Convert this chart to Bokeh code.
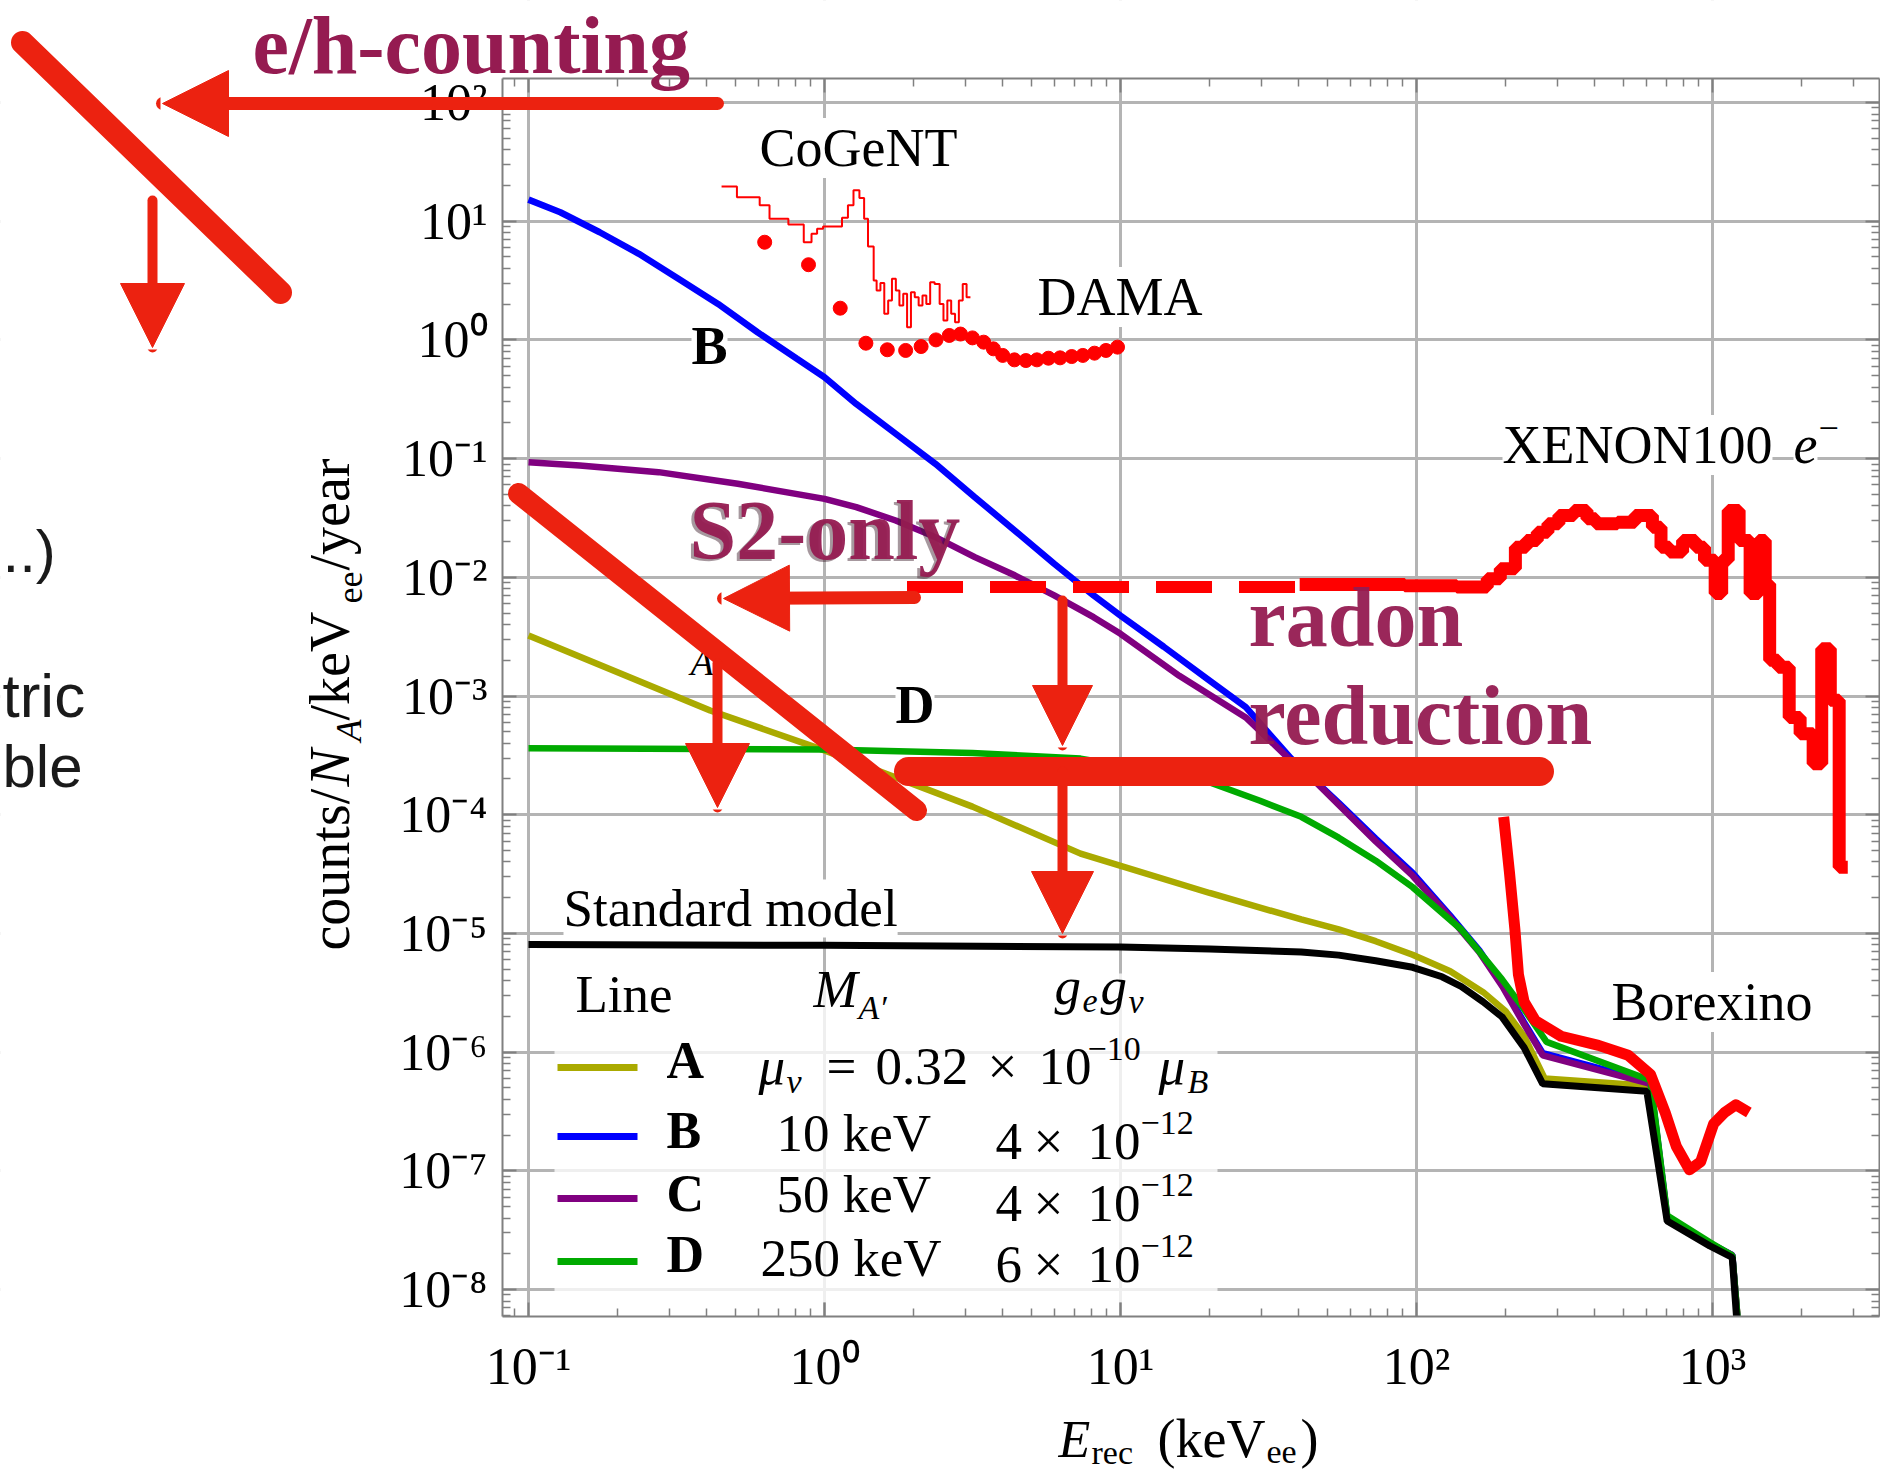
import numpy as np
from bokeh.plotting import figure
from bokeh.models import (Range1d, LogAxis, FixedTicker, CustomJSTickFormatter,
                          Label, Arrow, NormalHead, BoxAnnotation)
from bokeh.embed import file_html
from bokeh.resources import INLINE

# ---------------- data ----------------
# theory curves: recoil energy (keV_ee) -> counts/N_A/keV_ee/year
E_A = [0.1, 0.411, 1.0, 3.16, 7.33, 20.0, 40.8, 54.6, 72.8, 97.0, 130.0, 168.0, 200.0,
       231.0, 271.0, 608.0, 703.0, 980.0, 1167.0, 1250.0]
R_A = [3.24e-3, 7.55e-4, 3.48e-4, 1.17e-4, 4.7e-5, 2.19e-5, 1.31e-5, 1.08e-5, 8.6e-6,
       6.6e-6, 4.8e-6, 3.2e-6, 2.21e-6, 1.36e-6, 6.0e-7, 5.2e-7, 3.9e-8, 2.4e-8, 1.9e-8, 2.5e-9]

E_B = [0.1, 0.128, 0.174, 0.236, 0.321, 0.437, 0.594, 0.807, 1.0, 1.28, 1.74, 2.37, 3.22,
       4.39, 5.97, 8.11, 10.0, 14.0, 20.0, 26.5, 37.6, 54.6, 72.8, 97.0, 130.0, 163.0, 195.0,
       231.0, 267.0, 617.0, 703.0, 980.0, 1167.0, 1236.0]
R_B = [15.2, 11.9, 8.07, 5.31, 3.27, 2.01, 1.16, 0.693, 0.485, 0.289, 0.162, 0.0904, 0.0473,
       0.0248, 0.0130, 7.03e-3, 4.76e-3, 2.6e-3, 1.35e-3, 8.05e-4, 3.0e-4, 1.26e-4, 6.3e-5,
       3.24e-5, 1.41e-5, 7.2e-6, 3.7e-6, 1.78e-6, 9.8e-7, 5.6e-7, 4.1e-8, 2.45e-8, 1.95e-8, 3.2e-9]

E_C = [0.1, 0.149, 0.275, 0.509, 1.0, 1.28, 1.74, 2.37, 3.22, 4.39, 5.97, 8.11, 10.0, 15.8,
       26.5, 37.5, 45.8, 72.8, 97.0, 130.0, 163.0, 195.0, 231.0, 267.0, 617.0, 703.0, 980.0,
       1167.0, 1250.0]
R_C = [0.0933, 0.0875, 0.0769, 0.0614, 0.0458, 0.039, 0.0301, 0.0218, 0.0148, 0.0104,
       7.03e-3, 4.61e-3, 3.34e-3, 1.48e-3, 6.6e-4, 2.88e-4, 1.87e-4, 5.96e-5, 3.06e-5, 1.36e-5,
       6.95e-6, 3.57e-6, 1.71e-6, 9.4e-7, 5.4e-7, 4.0e-8, 2.45e-8, 1.95e-8, 2.5e-9]

E_D = [0.1, 1.0, 3.16, 7.33, 18.6, 29.6, 40.8, 54.6, 72.8, 97.0, 141.6, 194.5, 231.0,
       275.0, 617.0, 703.0, 980.0, 1167.0, 1250.0]
R_D = [3.63e-4, 3.55e-4, 3.31e-4, 2.97e-4, 2.0e-4, 1.31e-4, 9.6e-5, 6.4e-5, 4.1e-5,
       2.45e-5, 1.08e-5, 4.1e-6, 2.29e-6, 1.22e-6, 5.8e-7, 4.2e-8, 2.5e-8, 1.93e-8, 2.5e-9]

E_SM = [0.1, 1.0, 10.0, 20.0, 40.8, 54.6, 72.8, 97.0, 122.0, 141.6, 168.0, 194.5, 231.0,
        267.0, 600.0, 703.0, 979.0, 1166.0, 1236.0]
R_SM = [8.05e-6, 7.94e-6, 7.67e-6, 7.4e-6, 6.97e-6, 6.56e-6, 5.89e-6, 5.18e-6, 4.31e-6,
        3.57e-6, 2.65e-6, 1.98e-6, 1.09e-6, 5.4e-7, 4.67e-7, 3.77e-8, 2.33e-8, 1.86e-8, 2.5e-9]

# CoGeNT histogram (bin edges, rate per bin)
COGENT_EDGES = [0.449, 0.506, 0.604, 0.652, 0.755, 0.851, 0.904, 0.944, 0.989, 1.146, 1.2,
                1.253, 1.312, 1.361, 1.403, 1.466, 1.5, 1.545, 1.592, 1.641, 1.69, 1.742,
                1.791, 1.845, 1.901, 1.959, 2.018, 2.08, 2.143, 2.208, 2.275, 2.355, 2.449,
                2.523, 2.6, 2.679, 2.761, 2.844, 2.931, 3.02, 3.112]
COGENT_RATE = [19.6, 15.9, 13.6, 10.5, 9.38, 6.65, 7.83, 8.63, 9.04, 10.7, 13.6, 18.2, 15.7,
               10.5, 6.12, 3.16, 2.61, 3.01, 1.66, 2.15, 3.27, 2.61, 1.95, 2.45, 1.28, 2.52,
               2.29, 1.95, 2.37, 2.01, 3.06, 2.96, 2.01, 1.46, 2.15, 1.66, 1.41, 2.15, 2.96, 2.29]

# DAMA points
DAMA_E = [0.628, 0.883, 1.13, 1.38, 1.63, 1.88, 2.12, 2.38, 2.64, 2.88, 3.16, 3.45, 3.72,
          4.0, 4.38, 4.79, 5.22, 5.71, 6.25, 6.84, 7.46, 8.17, 8.93, 9.77]
DAMA_R = [6.65, 4.30, 1.85, 0.938, 0.826, 0.815, 0.879, 1.0, 1.09, 1.12, 1.04, 0.957, 0.841,
          0.74, 0.679, 0.67, 0.679, 0.701, 0.706, 0.724, 0.74, 0.773, 0.815, 0.869]

# XENON100 e- (S2-only extension dashed, then measured histogram)
XE_DASH_E = [1.90, 40.3]
XE_DASH_R = [8.3e-3, 8.3e-3]
XE_EDGES = [40.3, 91.2, 136.8, 173.4, 191.9, 215.8, 235.0, 255.9, 278.0, 302.7, 340.4, 376.7,
            403.6, 477.5, 547.0, 626.6, 669.9, 716.1, 792.5, 877.0, 939.7, 1021.0, 1074.0,
            1130.0, 1230.0, 1340.0, 1432.0, 1507.0, 1560.0, 1667.0, 1816.0, 1977.0, 2188.0,
            2339.0, 2500.0, 2679.0, 2864.0]
XE_RATE = [8.7e-3, 8.5e-3, 8.3e-3, 9.7e-3, 0.0118, 0.0179, 0.0204, 0.024, 0.0282, 0.0332,
           0.0366, 0.0311, 0.0282, 0.0291, 0.0332, 0.0264, 0.0179, 0.0163, 0.0204, 0.0179,
           0.0139, 7.3e-3, 0.0139, 0.0366, 0.0204, 7.3e-3, 0.0204, 8.8e-3, 2.0e-3, 1.75e-3,
           6.6e-4, 4.8e-4, 2.69e-4, 2.5e-3, 9.2e-4, 3.6e-5]

# Borexino
BX_E = [197.0, 206.0, 215.0, 221.0, 231.0, 252.0, 308.0, 412.0, 519.0, 617.0, 692.0, 755.0,
        836.0, 912.0, 1009.0, 1099.0, 1199.0, 1327.0]
BX_R = [9.6e-5, 3.3e-5, 1.08e-5, 4.5e-6, 2.65e-6, 1.84e-6, 1.36e-6, 1.14e-6, 9.4e-7, 6.5e-7,
        3.1e-7, 1.6e-7, 1.02e-7, 1.19e-7, 2.49e-7, 3.1e-7, 3.6e-7, 3.1e-7]

X_TICKS = [0.1, 1.0, 10.0, 100.0, 1000.0]
Y_TICKS = [1e-8, 1e-7, 1e-6, 1e-5, 1e-4, 1e-3, 1e-2, 1e-1, 1.0, 10.0, 100.0]

# ---------------- layout helpers (page pixels -> data) ----------------
W, H = 1880, 1470
X0, XD = 528.0, 296.0      # page x of 10^-1, px per decade
Y0, YD = 220.7, 118.7      # page y of 10^1, px per decade
FL, FR, FT, FB = 502, 1879, 78, 1316   # plot box edges (page px)


def dx(px):
    return 10 ** ((px - X0) / XD - 1.0)


def dy(py):
    return 10 ** (1.0 - (py - Y0) / YD)


SERIF = "Liberation Serif"
SANS = "Liberation Sans"
RED = "#ff0000"
SCRIB = "#ec2210"
MAROON = "#951b51"
GRAY = "#808080"

# the frame fills the canvas; the axes are pinned at the plot box edges
p = figure(width=W, height=H, x_axis_type="log", y_axis_type="log", title=None,
           x_range=Range1d(dx(0), dx(W)), y_range=Range1d(dy(H), dy(0)),
           output_backend="svg", toolbar_location=None, min_border=0)
p.background_fill_color = "white"
p.border_fill_color = "white"
p.outline_line_color = None

x_lo, x_hi = dx(FL), dx(FR)
y_lo, y_hi = dy(FB), dy(FT)
x_minor = [v for v in (k * 10.0 ** n for n in range(-2, 4) for k in range(2, 10))
           if x_lo <= v <= x_hi]
y_minor = [v for v in (k * 10.0 ** n for n in range(-9, 3) for k in range(2, 10))
           if y_lo <= v <= y_hi]
xt = FixedTicker(ticks=X_TICKS, minor_ticks=x_minor)
yt = FixedTicker(ticks=Y_TICKS, minor_ticks=y_minor)

JS = """
const sup = {'-': '\u207b', '0': '\u2070', '1': '\u00b9', '2': '\u00b2', '3': '\u00b3',
             '4': '\u2074', '5': '\u2075', '6': '\u2076', '7': '\u2077', '8': '\u2078', '9': '\u2079'};
const e = Math.round(Math.log10(tick));
let s = '10';
for (const c of String(e)) { s += sup[c]; }
return s;
"""
fmt = CustomJSTickFormatter(code=JS)


def style_axis(ax, labels=True):
    ax.axis_line_color = GRAY
    ax.axis_line_width = 2
    ax.major_tick_line_color = GRAY
    ax.minor_tick_line_color = GRAY
    ax.major_tick_line_width = 2
    ax.minor_tick_line_width = 1.5
    ax.major_tick_in = 14
    ax.major_tick_out = 0
    ax.minor_tick_in = 8
    ax.minor_tick_out = 0
    if labels:
        ax.major_label_text_font = SERIF
        ax.major_label_text_font_size = "52px"
        ax.major_label_text_color = "black"
    else:
        ax.major_label_text_font_size = "0px"
        ax.major_label_standoff = 0


xa = p.xaxis[0]
ya = p.yaxis[0]
xa.ticker = xt
ya.ticker = yt
xa.formatter = fmt
ya.formatter = fmt
style_axis(xa)
style_axis(ya)
xa.major_label_standoff = 21
ya.major_label_standoff = 15
xa.fixed_location = y_lo
ya.fixed_location = x_lo
xa.bounds = (x_lo, x_hi)
ya.bounds = (y_lo, y_hi)

top = LogAxis(ticker=xt, formatter=CustomJSTickFormatter(code="return '';"),
              fixed_location=y_hi, bounds=(x_lo, x_hi))
style_axis(top, labels=False)
p.add_layout(top, "above")
right = LogAxis(ticker=yt, formatter=CustomJSTickFormatter(code="return '';"),
                fixed_location=x_hi, bounds=(y_lo, y_hi))
style_axis(right, labels=False)
p.add_layout(right, "right")

p.xgrid.ticker = FixedTicker(ticks=X_TICKS)
p.ygrid.ticker = FixedTicker(ticks=Y_TICKS)
p.grid.grid_line_color = "#b4b4b4"
p.grid.grid_line_width = 3

# white legend panel (dims the grid)
p.add_layout(BoxAnnotation(left=dx(554), right=dx(1217), bottom=dy(1302), top=dy(973),
                           fill_color="white", fill_alpha=0.78, line_color=None,
                           level="underlay"))

# ---------------- curves ----------------
p.line(E_A, R_A, line_color="#aaaa00", line_width=6.5)
p.line(E_B, R_B, line_color="#0000ff", line_width=6.5)
p.line(E_C, R_C, line_color="#800080", line_width=6.5)
p.line(E_D, R_D, line_color="#00aa00", line_width=6.5)
p.line(E_SM, R_SM, line_color="black", line_width=7)

p.step(COGENT_EDGES, COGENT_RATE + [COGENT_RATE[-1]], mode="after",
       line_color=RED, line_width=2)
p.scatter(DAMA_E, DAMA_R, size=14, color=RED, marker="circle")
p.line(XE_DASH_E, XE_DASH_R, line_color=RED, line_width=12, line_dash="56 27")
p.step(XE_EDGES, XE_RATE + [XE_RATE[-1]], mode="after", line_color=RED, line_width=13)
p.line(BX_E, BX_R, line_color=RED, line_width=11, line_join="round")

# white masks outside the plot box (clip the curves and grid to the box)
PAD = 60
for l, r, b, t in ((-PAD, FL, H + PAD, -PAD), (FR, W + PAD, H + PAD, -PAD),
                   (FL - 5, FR + 5, FT, -PAD), (FL - 5, FR + 5, H + PAD, FB)):
    p.renderers.append(BoxAnnotation(left=dx(l), right=dx(r), bottom=dy(b), top=dy(t),
                                     fill_color="white", fill_alpha=1.0, line_color=None,
                                     level="glyph"))

BASE_SHIFT = 0.36   # Label draws its baseline this many em below the anchor


# ---------------- text helpers ----------------
def lab(text, px, py, size, style="normal", color="black", font=SERIF, align="left",
        angle=0.0, bg=None, alpha=1.0):
    if angle == 0.0:
        py = py - BASE_SHIFT * size
    else:
        px = px - BASE_SHIFT * size
    p.add_layout(Label(x=dx(px), y=dy(py), text=text, text_font=font,
                       text_font_size=f"{size}px", text_font_style=style,
                       text_color=color, text_alpha=alpha, text_align=align,
                       text_baseline="alphabetic", angle=angle,
                       background_fill_color=bg))


def stroke(x0, y0, x1, y1, w, head=None):
    end = None
    if head is not None:
        end = NormalHead(size=head, fill_color=SCRIB, line_color=SCRIB, line_width=1)
    p.add_layout(Arrow(x_start=dx(x0), y_start=dy(y0), x_end=dx(x1), y_end=dy(y1),
                       line_color=SCRIB, line_width=w, line_cap="round", start=None, end=end))


def swatch(x0, x1, y, color):
    p.add_layout(Arrow(x_start=dx(x0), y_start=dy(y), x_end=dx(x1), y_end=dy(y),
                       line_color=color, line_width=7, start=None, end=None))


# leftover slide text at the left edge
lab("..)", 2, 573, 60, font=SANS, color="#1a1a1a")
lab("tric", 2, 717, 62, font=SANS, color="#1a1a1a")
lab("ble", 2, 788, 60, font=SANS, color="#1a1a1a")

# data set labels
lab("CoGeNT", 759, 167, 54, bg="white")
lab("DAMA", 1037, 316, 54, bg="white")
lab("XENON100", 1502, 464, 54, bg="white")
lab("e", 1793, 464, 54, style="italic", bg="white")
lab("\u2212", 1818, 440, 36, bg="white")
lab("Borexino", 1611, 1021, 54, bg="white")
lab("Standard model", 563, 927, 53, bg="white")
lab("B", 691, 365, 54, style="bold", bg="white")
lab("D", 895, 724, 54, style="bold", bg="white")
lab("A", 690, 675, 38, style="italic")

# axis titles (mixed styles)
H90 = np.pi / 2
lab("counts/", 350, 950, 56, angle=H90)
lab("N", 350, 786, 56, style="italic", angle=H90)
lab("A", 361, 741, 36, style="italic", angle=H90)
lab("/keV", 350, 720, 56, angle=H90)
lab("ee", 362, 603, 36, angle=H90)
lab("/year", 350, 570, 56, angle=H90)

lab("E", 1058, 1458, 52, style="italic")
lab("rec", 1091, 1464, 34)
lab("(keV", 1157, 1458, 54)
lab("ee", 1266, 1464, 34)
lab(")", 1300, 1458, 54)

# legend table
lab("Line", 575, 1013, 53)
lab("M", 813, 1008, 53, style="italic")
lab("A\u2032", 858, 1019, 34, style="italic")
lab("g", 1054, 1005, 53, style="italic")
lab("e", 1082, 1013, 34, style="italic")
lab("g", 1100, 1005, 53, style="italic")
lab("\u03bd", 1128, 1013, 34, style="italic")

swatch(557, 637, 1067, "#aaaa00")
lab("A", 666, 1079, 52, style="bold")
lab("\u03bc", 758, 1085, 53, style="italic")
lab("\u03bd", 786, 1093, 34, style="italic")
lab("=", 826, 1085, 53)
lab("0.32", 875, 1085, 53)
lab("\u00d7", 987, 1085, 53)
lab("10", 1038, 1085, 53)
lab("\u221210", 1087, 1061, 34)
lab("\u03bc", 1158, 1085, 53, style="italic")
lab("B", 1187, 1093, 34, style="italic")

rows = [(1136, 1149, 1152, 1160, "#0000ff", "B", "10 keV", 776, "4"),
        (1198, 1212, 1213, 1222, "#800080", "C", "50 keV", 776, "4"),
        (1261, 1273, 1277, 1283, "#00aa00", "D", "250 keV", 760, "6")]
for ys, yl, ym, yg, col, name, mass, mx, coef in rows:
    swatch(557, 637, ys, col)
    lab(name, 666, yl, 52, style="bold")
    lab(mass, mx, ym, 53)
    lab(coef, 995, yg, 53)
    lab("\u00d7", 1033, yg, 53)
    lab("10", 1087, yg, 53)
    lab("\u221212", 1140, yg - 25, 34)

# ---------------- hand-drawn overlay ----------------
lab("S2-only", 686, 562, 84, style="bold", color="#3a1a28", alpha=0.45)   # faint shadow
lab("e/h-counting", 252, 75, 82, style="bold", color=MAROON)
lab("S2-only", 689, 560, 84, style="bold", color=MAROON, alpha=0.95)
lab("radon", 1248, 647, 84, style="bold", color=MAROON, alpha=0.95)
lab("reduction", 1248, 745, 84, style="bold", color=MAROON, alpha=0.95)

stroke(22, 42, 280, 292, 23)                # cross-out stroke, top left
stroke(152, 200, 152, 347, 10, head=64)     # down arrow, top left
stroke(717, 103, 162, 103, 13, head=66)     # e/h-counting arrow
stroke(518, 493, 916, 810, 21)              # diagonal stroke in plot
stroke(717, 663, 717, 807, 10, head=64)     # down arrow near A
stroke(914, 597, 723, 598, 13, head=66)     # S2-only arrow
stroke(908, 771, 1539, 771, 29)             # radon reduction level
stroke(1062, 600, 1062, 745, 10, head=60)   # down arrow 1
stroke(1062, 771, 1062, 933, 10, head=62)   # down arrow 2

open("out.html", "w", encoding="utf-8").write(file_html(p, INLINE, title="plot"))
